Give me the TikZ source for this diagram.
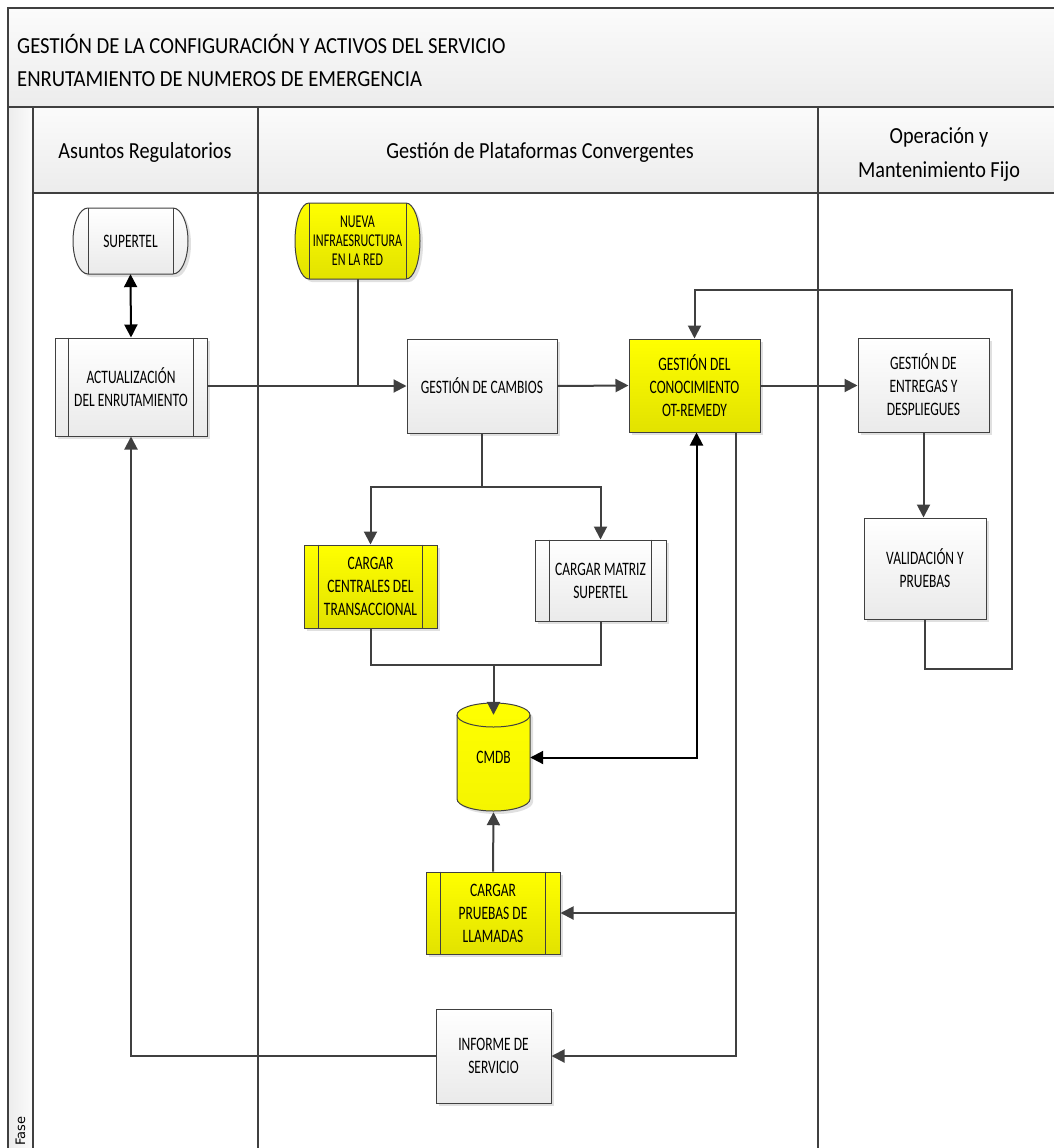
\documentclass[tikz,border=0pt]{standalone}
\usepackage{fontspec}
\setmainfont{Carlito}
\newfontfamily\fasefont{DejaVu Sans}
\newfontfamily\nodefont[FakeStretch=0.71]{Carlito}
\newfontfamily\smallnodefont[FakeStretch=0.67]{Carlito}
\newfontfamily\headfont[FakeStretch=0.88]{Carlito}
\newfontfamily\titlefont[FakeStretch=0.9]{Carlito}
\usetikzlibrary{arrows.meta,calc,shadows}

\definecolor{linegray}{HTML}{404040}
\definecolor{boxtop}{HTML}{FFFFFF}
\definecolor{boxbot}{HTML}{EAEAEA}
\definecolor{yeltop}{HTML}{FFFF00}
\definecolor{yelbot}{HTML}{E2E200}
\definecolor{bandtop}{HTML}{FBFBFB}
\definecolor{bandbot}{HTML}{ECECEC}

\tikzset{
  frameline/.style={draw=linegray, line width=1.3pt},
  boxshadow/.style={drop shadow={shadow xshift=3pt, shadow yshift=-3pt, fill=black!12, opacity=1}},
  nodetext/.style={font=\nodefont\fontsize{19}{23}\selectfont},
  proc/.style={draw=linegray, line width=1pt, top color=boxtop, bottom color=boxbot,
    align=center, nodetext, inner sep=0pt, boxshadow},
  yproc/.style={proc, top color=yeltop, bottom color=yelbot},
  label/.style={align=center, inner sep=0pt},
  headtext/.style={font=\headfont\fontsize{23}{34}\selectfont},
  titletext/.style={font=\titlefont\fontsize{23}{32}\selectfont},
  conn/.style={draw=linegray, line width=2pt},
  flow/.style={conn, -{Triangle[length=13pt,width=13pt]}},
  bflow/.style={draw=black, line width=2pt, {Triangle[length=13pt,width=13pt]}-{Triangle[length=13pt,width=13pt]}},
  subline/.style={draw=linegray, line width=0.8pt},
}

% vertical bars of a predefined-process box
\newcommand\sublines[2]{%
  \draw[subline] ($(#1.north west)+(#2,0)$) -- ($(#1.south west)+(#2,0)$)
                 ($(#1.north east)+(-#2,0)$) -- ($(#1.south east)+(-#2,0)$);}

\begin{document}
\begin{tikzpicture}[x=1pt,y=-1pt]
\useasboundingbox (0,0) rectangle (1054,1148);
\begin{scope}
\clip (0,0) rectangle (1054,1148);

% ---------- pool frame, title band, lane headers ----------
\fill[top color=bandtop, bottom color=bandbot] (8,8) rectangle (1070,107);
\fill[top color=bandtop, bottom color=bandbot] (33,107) rectangle (1070,193);
\fill[left color=bandbot, right color=bandtop] (8,107) rectangle (33,1170);
\draw[frameline] (1070,8) -- (8,8) -- (8,1170);
\draw[frameline] (8,107) -- (1070,107);
\draw[frameline] (33,107) -- (33,1170);
\draw[frameline] (33,193) -- (1070,193);
\draw[frameline] (258,107) -- (258,1170);
\draw[frameline] (818,107) -- (818,1170);

\node[anchor=base west, titletext, inner sep=0pt] (title1) at (17,54)
  {GESTIÓN DE LA CONFIGURACIÓN Y ACTIVOS DEL SERVICIO};
\node[anchor=base west, titletext, inner sep=0pt] (title2) at (17,86)
  {ENRUTAMIENTO DE NUMEROS DE EMERGENCIA};

\node[label, headtext, anchor=base] (laneA) at (145,158) {Asuntos Regulatorios};
\node[label, headtext, anchor=base] (laneB) at (540,158) {Gestión de Plataformas Convergentes};
\node[label, headtext, anchor=base] (laneC1) at (939,143) {Operación y};
\node[label, headtext, anchor=base] (laneC2) at (939,177) {Mantenimiento Fijo};

\node[rotate=90, anchor=base west, inner sep=0pt, font=\fasefont\fontsize{13}{14}\selectfont] (fase) at (25,1146) {Fase};

% ---------- terminators ----------
\fill[black!12] (91,211) -- (176,211) arc[start angle=90, end angle=-90, x radius=15pt, y radius=33pt]
  -- (91,277) arc[start angle=270, end angle=90, x radius=15pt, y radius=33pt] -- cycle;
\draw[draw=linegray, line width=1pt, top color=boxtop, bottom color=boxbot]
  (88,208) -- (173,208) arc[start angle=90, end angle=-90, x radius=15pt, y radius=33pt]
  -- (88,274) arc[start angle=270, end angle=90, x radius=15pt, y radius=33pt] -- cycle;
\draw[subline] (88,208) -- (88,274) (173,208) -- (173,274);
\node[label, nodetext, minimum width=85pt, minimum height=66pt] (supertel) at (130.5,241) {SUPERTEL};

\fill[black!12] (312,206) -- (409,206) arc[start angle=90, end angle=-90, x radius=14pt, y radius=38pt]
  -- (312,282) arc[start angle=270, end angle=90, x radius=14pt, y radius=38pt] -- cycle;
\draw[draw=linegray, line width=1pt, top color=yeltop, bottom color=yelbot]
  (309,203) -- (406,203) arc[start angle=90, end angle=-90, x radius=14pt, y radius=38pt]
  -- (309,279) arc[start angle=270, end angle=90, x radius=14pt, y radius=38pt] -- cycle;
\draw[subline] (309,203) -- (309,279) (406,203) -- (406,279);
\node[label, font=\smallnodefont\fontsize{18}{19}\selectfont, minimum width=97pt, minimum height=76pt] (nueva) at (357.5,241)
  {NUEVA\\INFRAESRUCTURA\\EN LA RED};

% ---------- process boxes ----------
\node[proc, minimum width=152pt, minimum height=98pt] (actual) at (131,387) {ACTUALIZACIÓN\\DEL ENRUTAMIENTO};
\sublines{actual}{14}
\node[proc, minimum width=150pt, minimum height=94pt] (cambios) at (482,386) {GESTIÓN DE CAMBIOS};
\node[yproc, minimum width=131pt, minimum height=93pt] (conoc) at (694.5,385.5) {GESTIÓN DEL\\CONOCIMIENTO\\OT-REMEDY};
\node[proc, minimum width=131pt, minimum height=94pt] (entregas) at (923.5,385) {GESTIÓN DE\\ENTREGAS Y\\DESPLIEGUES};
\node[proc, minimum width=122pt, minimum height=101pt] (valid) at (925,568.5) {VALIDACIÓN Y\\PRUEBAS};
\node[yproc, minimum width=133pt, minimum height=83pt] (centrales) at (370.5,586.5) {CARGAR\\CENTRALES DEL\\TRANSACCIONAL};
\sublines{centrales}{15}
\node[proc, minimum width=131pt, minimum height=81pt] (matriz) at (600.5,580.5) {CARGAR MATRIZ\\SUPERTEL};
\sublines{matriz}{15}
\node[yproc, minimum width=134pt, minimum height=82pt] (pruebas) at (493,913) {CARGAR\\PRUEBAS DE\\LLAMADAS};
\sublines{pruebas}{15}
\node[proc, minimum width=115pt, minimum height=94pt] (informe) at (493.5,1056) {INFORME DE\\SERVICIO};

% ---------- CMDB data store ----------
\fill[black!12] (460,718) arc[start angle=180, end angle=0, x radius=36.5pt, y radius=12pt]
  -- (533,802) arc[start angle=0, end angle=-180, x radius=36.5pt, y radius=12pt] -- cycle;
\draw[draw=linegray, line width=1pt, top color=yeltop, bottom color=yeltop!96!black]
  (457,715) arc[start angle=180, end angle=0, x radius=36.5pt, y radius=12pt]
  -- (530,799) arc[start angle=0, end angle=-180, x radius=36.5pt, y radius=12pt] -- cycle;
\draw[draw=linegray, line width=1pt] (457,715) arc[start angle=180, end angle=360, x radius=36.5pt, y radius=12pt];
\node[label, nodetext, minimum width=73pt, minimum height=109pt] (cmdb) at (493.5,757.5) {CMDB};
\coordinate (cmdbin) at ($(cmdb.north)+(0,12)$);

% ---------- connectors ----------
\draw[bflow] (supertel.south) -- (actual.north);
\draw[flow] (actual.east |- cambios.west) -- (cambios.west);
\draw[conn] (nueva.south) -- (nueva.south |- cambios.west);
\draw[flow] (cambios.east) -- (conoc.west);
\draw[flow] (conoc.east) -- (conoc.east -| entregas.west);
\draw[flow] (entregas.south) -- (entregas.south |- valid.north);

\coordinate (loopR) at (1012,290);
\draw[flow] (valid.south) -- ++(0,49) -| (loopR) -| (conoc.north);

\coordinate (split) at ($(cambios.south)+(0,53)$);
\draw[conn] (cambios.south) -- (split);
\draw[flow] (split) -| (centrales.north);
\draw[flow] (split) -| (matriz.north);

\coordinate (merge) at ($(centrales.south)+(0,36)$);
\draw[conn] (centrales.south) -- (merge) -| (matriz.south);
\draw[flow] (merge -| cmdbin) -- (cmdbin);

\draw[bflow] ($(conoc.south)+(2,0)$) |- (cmdb.east);

\coordinate (tap) at ($(conoc.south east)+(-25,0)$);
\draw[flow] (tap) |- (informe.east);
\draw[flow] (tap |- pruebas.east) -- (pruebas.east);
\draw[flow] (pruebas.north) -- (cmdb.south);
\draw[flow] (informe.west) -| (actual.south);
\end{scope}
\end{tikzpicture}
\end{document}
